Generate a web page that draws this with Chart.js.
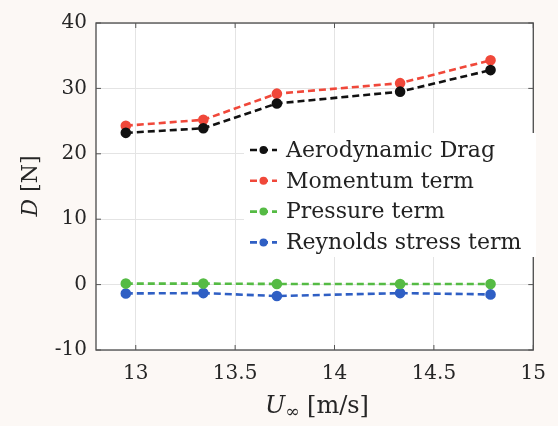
<!DOCTYPE html>
<html>
<head>
<meta charset="utf-8">
<script src="https://cdn.jsdelivr.net/npm/chart.js@4"></script>
<style>
  html, body { margin: 0; padding: 0; background: #fcf8f5; }
  #wrap { width: 558px; height: 426px; }
</style>
</head>
<body>
<div id="wrap"><canvas id="c" width="558" height="426"></canvas></div>
<script>
// ---- data ----
const speeds = [12.95, 13.34, 13.71, 14.33, 14.785];
const aeroDrag = [23.2, 23.9, 27.7, 29.5, 32.8];
const momentumTerm = [24.3, 25.2, 29.2, 30.8, 34.3];
const pressureTerm = [0.15, 0.15, 0.1, 0.1, 0.1];
const reynoldsTerm = [-1.35, -1.3, -1.75, -1.3, -1.5];
const seriesNames = ['Aerodynamic Drag', 'Momentum term', 'Pressure term', 'Reynolds stress term'];
const xTicks = [13, 13.5, 14, 14.5, 15];
const yTicks = [-10, 0, 10, 20, 30, 40];

const colors = ['#111111', '#f0483a', '#55bb44', '#2f5fc4'];
const seriesValues = [aeroDrag, momentumTerm, pressureTerm, reynoldsTerm];

const FONT = '"DejaVu Serif", serif';

const datasets = seriesValues.map((vals, i) => ({
  label: seriesNames[i],
  data: speeds.map((s, j) => ({ x: s, y: vals[j] })),
  borderColor: colors[i],
  backgroundColor: colors[i],
  pointBackgroundColor: colors[i],
  pointBorderColor: colors[i],
  borderWidth: 2.6,
  borderDash: [7, 4],
  pointRadius: 4,
  pointHoverRadius: 4,
  tension: 0,
  fill: false
}));

const decorPlugin = {
  id: 'decor',
  beforeDraw(chart) {
    const { ctx, chartArea: a } = chart;
    ctx.save();
    ctx.fillStyle = '#fcf8f5';
    ctx.fillRect(0, 0, chart.width, chart.height);
    ctx.fillStyle = '#ffffff';
    ctx.fillRect(a.left, a.top, a.right - a.left, a.bottom - a.top);
    ctx.restore();
  },
  afterDraw(chart) {
    const { ctx, chartArea: a, scales } = chart;
    ctx.save();
    // box
    ctx.strokeStyle = '#4a4a4a';
    ctx.lineWidth = 1.3;
    ctx.strokeRect(a.left, a.top, a.right - a.left, a.bottom - a.top);
    // inward ticks
    ctx.lineWidth = 1;
    ctx.strokeStyle = '#555555';
    const tl = 5;
    xTicks.forEach(v => {
      const px = scales.x.getPixelForValue(v);
      ctx.beginPath();
      ctx.moveTo(px, a.bottom); ctx.lineTo(px, a.bottom - tl);
      ctx.moveTo(px, a.top); ctx.lineTo(px, a.top + tl);
      ctx.stroke();
    });
    yTicks.forEach(v => {
      const py = scales.y.getPixelForValue(v);
      ctx.beginPath();
      ctx.moveTo(a.left, py); ctx.lineTo(a.left + tl, py);
      ctx.moveTo(a.right, py); ctx.lineTo(a.right - tl, py);
      ctx.stroke();
    });

    // legend (inside plot area)
    const lx = 244, ly = 133, lw = 292, lh = 124;
    ctx.fillStyle = '#ffffff';
    ctx.fillRect(lx, ly, lw, lh);
    const rowY0 = 150, rowDy = 30.8;
    chart.data.datasets.forEach((ds, i) => {
      const y = rowY0 + i * rowDy;
      ctx.strokeStyle = ds.borderColor;
      ctx.lineWidth = 2.6;
      ctx.setLineDash([7, 4]);
      ctx.beginPath();
      ctx.moveTo(250, y); ctx.lineTo(277, y);
      ctx.stroke();
      ctx.setLineDash([]);
      ctx.fillStyle = ds.borderColor;
      ctx.beginPath();
      ctx.arc(263.5, y, 4, 0, Math.PI * 2);
      ctx.fill();
      ctx.fillStyle = '#222222';
      ctx.font = '22px ' + FONT;
      ctx.textAlign = 'left';
      ctx.textBaseline = 'middle';
      ctx.fillText(ds.label, 286, y + 1);
    });

    // x-axis title: U∞ [m/s]
    ctx.fillStyle = '#262626';
    ctx.textBaseline = 'alphabetic';
    ctx.textAlign = 'left';
    const xt1 = 'U', xt2 = '∞', xt3 = ' [m/s]';
    ctx.font = 'italic 24px ' + FONT;
    const w1 = ctx.measureText(xt1).width;
    ctx.font = '17px ' + FONT;
    const w2 = ctx.measureText(xt2).width;
    ctx.font = '24px ' + FONT;
    const w3 = ctx.measureText(xt3).width;
    let sx = 317 - (w1 + w2 + w3) / 2;
    const by = 413;
    ctx.font = 'italic 24px ' + FONT;
    ctx.fillText(xt1, sx, by); sx += w1;
    ctx.font = '17px ' + FONT;
    ctx.fillText(xt2, sx, by + 4); sx += w2;
    ctx.font = '24px ' + FONT;
    ctx.fillText(xt3, sx, by);

    // y-axis title: D [N]
    ctx.save();
    ctx.translate(37, 186);
    ctx.rotate(-Math.PI / 2);
    ctx.font = 'italic 22px ' + FONT;
    const d1 = ctx.measureText('D').width;
    ctx.font = '22px ' + FONT;
    const d2 = ctx.measureText(' [N]').width;
    let dx = -(d1 + d2) / 2;
    ctx.font = 'italic 22px ' + FONT;
    ctx.fillText('D', dx, 0); dx += d1;
    ctx.font = '22px ' + FONT;
    ctx.fillText(' [N]', dx, 0);
    ctx.restore();

    ctx.restore();
  }
};

new Chart(document.getElementById('c'), {
  type: 'line',
  data: { datasets },
  options: {
    responsive: false,
    animation: false,
    layout: { padding: { left: 0, right: 17, top: 23, bottom: 0 } },
    plugins: { legend: { display: false }, tooltip: { enabled: false } },
    scales: {
      x: {
        type: 'linear',
        min: 12.8,
        max: 15,
        afterBuildTicks: s => { s.ticks = xTicks.map(v => ({ value: v })); },
        afterFit: s => { s.height = 76; },
        ticks: { color: '#262626', font: { family: FONT, size: 20 }, padding: 12, maxRotation: 0,
                 callback: v => String(v) },
        grid: { color: '#e4e4e4', lineWidth: 1, drawTicks: false },
        border: { display: false }
      },
      y: {
        min: -10,
        max: 40,
        afterBuildTicks: s => { s.ticks = yTicks.map(v => ({ value: v })); },
        afterFit: s => { s.width = 96; },
        ticks: { color: '#262626', font: { family: FONT, size: 20 }, padding: 9,
                 callback: v => String(v) },
        grid: { color: '#e4e4e4', lineWidth: 1, drawTicks: false },
        border: { display: false }
      }
    }
  },
  plugins: [decorPlugin]
});
</script>
</body>
</html>
